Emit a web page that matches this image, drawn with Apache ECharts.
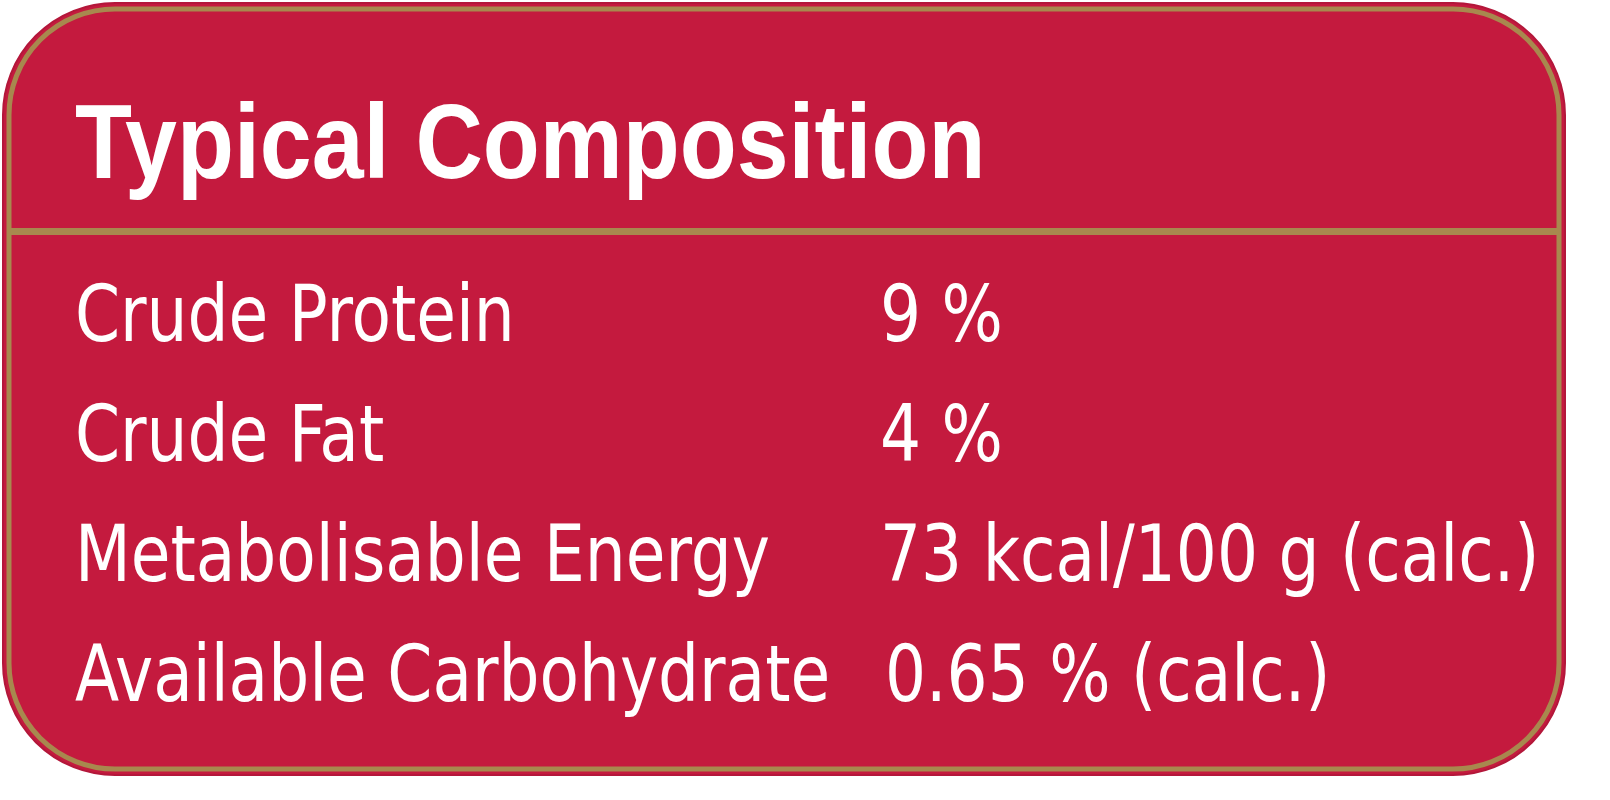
<!DOCTYPE html>
<html><head><meta charset="utf-8">
<script src="https://cdn.jsdelivr.net/npm/echarts@6/dist/echarts.min.js"></script>
<style>html,body{margin:0;padding:0;background:#fff}#c{width:1610px;height:800px}</style>
</head><body><div id="c"></div>
<script>
const title = "Typical Composition";
const labels = ["Crude Protein", "Crude Fat", "Metabolisable Energy", "Available Carbohydrate"];
const values = ["9 %", "4 %", "73 kcal/100 g (calc.)", "0.65 % (calc.)"];

const chart = echarts.init(document.getElementById('c'));
const font = '"DejaVu Sans Condensed", "Liberation Sans Narrow", sans-serif';
const els = [
  {type:'rect', shape:{x:3,y:3,width:1562,height:772,r:112}, style:{fill:'#C41A3E',stroke:'#B3173A',lineWidth:2}},
  {type:'rect', shape:{x:9,y:9,width:1550,height:760,r:106}, style:{fill:'#C41A3E',stroke:'#A8884E',lineWidth:5}},
  {type:'rect', shape:{x:11,y:228,width:1546,height:7}, style:{fill:'#A8884E'}},
  {type:'text', x:75, y:96, scaleX:0.88, style:{text:title, fill:'#fff', font:'bold 106px "Liberation Sans", Arial, sans-serif', verticalAlign:'top', align:'left'}}
];
labels.forEach((l,i)=>{
  const y = 282 + i*120;
  els.push({type:'text', x:75, y:y, scaleX:0.92, style:{text:l, fill:'#fff', font:'78px '+font, verticalAlign:'top'}});
  els.push({type:'text', x:i===3?885:880, y:y, scaleX:0.92, style:{text:values[i], fill:'#fff', font:'78px '+font, verticalAlign:'top'}});
});
chart.setOption({animation:false, graphic:{elements:els}});
</script></body></html>
